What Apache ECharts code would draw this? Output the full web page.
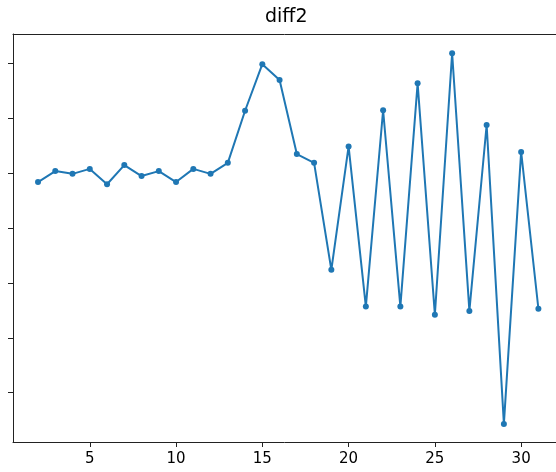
<!DOCTYPE html>
<html>
<head>
<meta charset="utf-8">
<script src="https://cdn.jsdelivr.net/npm/echarts@6/dist/echarts.min.js"></script>
<style>
html,body{margin:0;padding:0;background:#fff;}
#chart{width:556px;height:472px;}
</style>
</head>
<body>
<div id="chart"></div>
<script>
const titleText = "diff2";
const xValues = [2,3,4,5,6,7,8,9,10,11,12,13,14,15,16,17,18,19,20,21,22,23,24,25,26,27,28,29,30,31];
const yValues = [-0.16,0.04,-0.01,0.08,-0.20,0.15,-0.05,0.04,-0.16,0.08,-0.01,0.19,1.14,1.99,1.70,0.35,0.19,-1.76,0.49,-2.43,1.15,-2.43,1.64,-2.58,2.19,-2.51,0.88,-4.57,0.39,-2.47];
const xTicks = [5,10,15,20,25,30];
const yTicks = [-4,-3,-2,-1,0,1,2];

const chart = echarts.init(document.getElementById('chart'), null, {renderer:'canvas'});
const fontFamily = 'DejaVu Sans';
const spine = '#222';
chart.setOption({
  animation:false,
  backgroundColor:'#fff',
  title:{
    text:titleText,
    left:260, top:3,
    textStyle:{fontFamily, fontSize:19, fontWeight:'normal', color:'#000'}
  },
  grid:{
    left:13, top:34, right:0, height:408, show:false
  },
  xAxis:[{
    type:'value', min:0.55, max:32.02,
    axisLine:{show:true, onZero:false, lineStyle:{color:spine, width:1}},
    axisTick:{show:true, length:5, customValues:xTicks, lineStyle:{color:spine}},
    axisLabel:{show:true, customValues:xTicks, margin:10, fontFamily, fontSize:15, color:'#000'},
    splitLine:{show:false}
  },{
    type:'value', position:'top', min:0.55, max:32.02,
    axisLine:{show:true, onZero:false, lineStyle:{color:spine, width:1}},
    axisTick:{show:false}, axisLabel:{show:false}, splitLine:{show:false}
  }],
  yAxis:{
    type:'value', min:-4.90, max:2.54,
    axisLine:{show:true, onZero:false, lineStyle:{color:spine, width:1}},
    axisTick:{show:true, length:5, customValues:yTicks, lineStyle:{color:spine}},
    axisLabel:{show:false},
    splitLine:{show:false}
  },
  series:[{
    type:'line',
    xAxisIndex:0,
    data:xValues.map((x,i)=>[x,yValues[i]]),
    symbol:'circle', symbolSize:6, showAllSymbol:true,
    lineStyle:{color:'#1f77b4', width:2},
    itemStyle:{color:'#1f77b4'}
  }]
});
</script>
</body>
</html>
